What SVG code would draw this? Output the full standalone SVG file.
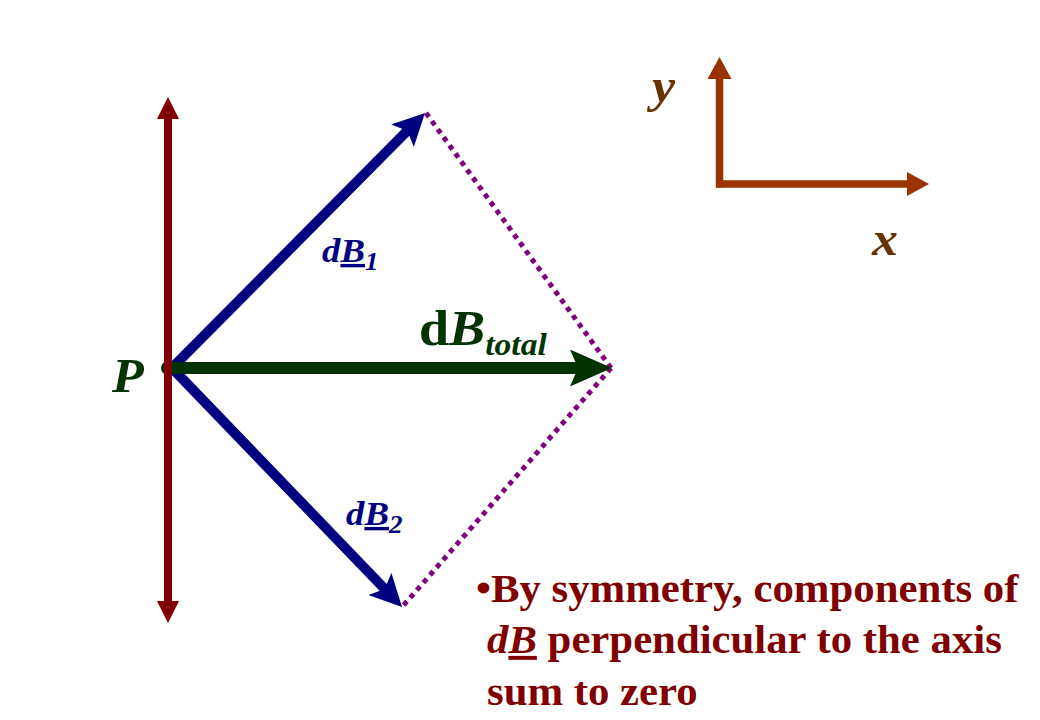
<svg xmlns="http://www.w3.org/2000/svg" width="1040" height="720" viewBox="0 0 1040 720">
<style>
  text { font-family: "Liberation Serif", "Times New Roman", serif; font-weight: bold; }
  .it { font-style: italic; }
  .ul { text-decoration: underline; }
  .red { stroke: #800000; stroke-width: 8; fill: none; }
  .blue { stroke: #000080; stroke-width: 10; fill: none; }
  .green { stroke: #003300; stroke-width: 12; fill: none; }
  .axis { stroke: #993300; stroke-width: 7.5; fill: none; }
  .dot { stroke: #800080; stroke-width: 5; stroke-dasharray: 5 5; fill: none; }
</style>
<defs>
  <marker id="hRed" markerUnits="userSpaceOnUse" markerWidth="22" markerHeight="22" refX="2" refY="11" orient="auto-start-reverse">
    <path d="M0,0 L22,11 L0,22 Z" fill="#800000"/>
  </marker>
  <marker id="hAxis" markerUnits="userSpaceOnUse" markerWidth="22" markerHeight="24" refX="2" refY="12" orient="auto">
    <path d="M0,0 L22,12 L0,24 Z" fill="#993300"/>
  </marker>
  <marker id="hBlue" markerUnits="userSpaceOnUse" markerWidth="32" markerHeight="32" refX="9" refY="16" orient="auto">
    <path d="M0,0 L32,16 L0,32 L7,16 Z" fill="#000080"/>
  </marker>
  <marker id="hGreen" markerUnits="userSpaceOnUse" markerWidth="42" markerHeight="37" refX="10" refY="18.5" orient="auto">
    <path d="M0,0 L42,18.5 L0,37 L8,18.5 Z" fill="#003300"/>
  </marker>
</defs>
<rect width="1040" height="720" fill="#ffffff"/>

<g id="connectors">
  <line id="dotted1" class="dot" x1="426" y1="113" x2="611" y2="368"/>
  <line id="dotted2" class="dot" x1="611" y1="368" x2="402" y2="607"/>
  <line id="axis-line" class="red" x1="168" y1="117" x2="168" y2="603" marker-start="url(#hRed)" marker-end="url(#hRed)"/>
  <line id="dB1-arrow" class="blue" x1="172" y1="368" x2="408.8" y2="129.3" marker-end="url(#hBlue)"/>
  <line id="dB2-arrow" class="blue" x1="172" y1="368" x2="386.1" y2="590.4" marker-end="url(#hBlue)"/>
  <line id="dBtotal-arrow" class="green" x1="172" y1="368" x2="580" y2="368" marker-end="url(#hGreen)"/>
  <line id="y-axis" class="axis" x1="719.5" y1="187.5" x2="719.5" y2="77" marker-end="url(#hAxis)"/>
  <line id="x-axis" class="axis" x1="716" y1="184" x2="909" y2="184" marker-end="url(#hAxis)"/>
</g>

<g id="point-P">
  <circle cx="168" cy="368" r="7" fill="#003300"/>
  <line x1="168" y1="358" x2="168" y2="378" stroke="#800000" stroke-width="8"/>
  <text class="it" transform="translate(112,392) scale(1.0833,1)" font-size="48" fill="#003300">P</text>
</g>

<g id="label-dB1">
  <text transform="translate(322,262) scale(1.0833,1)" font-size="34" fill="#000080"><tspan class="it">d</tspan><tspan class="it ul">B</tspan><tspan class="it" font-size="25" dy="8">1</tspan></text>
</g>

<g id="label-dB2">
  <text transform="translate(346,525) scale(1.0833,1)" font-size="34" fill="#000080"><tspan class="it">d</tspan><tspan class="it ul">B</tspan><tspan class="it" font-size="25" dy="8">2</tspan></text>
</g>

<g id="label-dBtotal">
  <text transform="translate(419,345) scale(1.0833,1)" font-size="50" fill="#003300">d<tspan class="it">B</tspan><tspan class="it" font-size="31" dy="10">total</tspan></text>
</g>

<g id="axis-labels">
  <text class="it" transform="translate(652,102) scale(1.0833,1)" font-size="48" fill="#663300">y</text>
  <text class="it" transform="translate(872,255) scale(1.0833,1)" font-size="48" fill="#663300">x</text>
</g>

<g id="note" fill="#800000" font-size="39.5">
  <text transform="translate(476,602) scale(1.0833,1)">•By symmetry, components of</text>
  <text transform="translate(487,653) scale(1.0833,1)"><tspan class="it">d</tspan><tspan class="it ul">B</tspan> perpendicular to the axis</text>
  <text transform="translate(487,705) scale(1.0833,1)">sum to zero</text>
</g>
</svg>
